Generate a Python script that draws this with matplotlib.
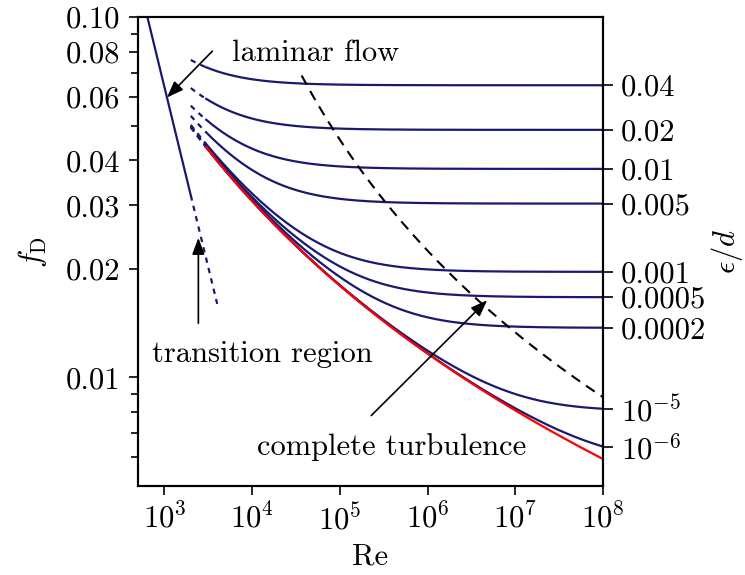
import numpy as np
import matplotlib
matplotlib.use('Agg')
import matplotlib.pyplot as plt

plt.rcParams['font.family'] = 'cmr10'
plt.rcParams['mathtext.fontset'] = 'cm'
plt.rcParams['axes.formatter.use_mathtext'] = True
plt.rcParams['font.size'] = 22

# relative roughness of each curve and its label on the right axis
eps_d = [0.04, 0.02, 0.01, 0.005, 0.001, 0.0005, 0.0002, 1e-5, 1e-6]
eps_labels = ['0.04', '0.02', '0.01', '0.005', '0.001', '0.0005', '0.0002',
              r'$10^{-5}$', r'$10^{-6}$']

re_min, re_max = 500, 1e8
re_lam_end = 2000      # end of laminar regime
re_trans_end = 4000    # laminar line dotted up to here
re_turb_start = 3000   # turbulent curves solid from here
boundary_const = 1650  # Re * eps/d along the complete-turbulence line
boundary_eps_top = 0.045

yticks = [0.01, 0.02, 0.03, 0.04, 0.06, 0.08, 0.1]
ytick_labels = ['0.01', '0.02', '0.03', '0.04', '0.06', '0.08', '0.10']
yminor = [0.006, 0.007, 0.008, 0.009, 0.05, 0.07, 0.09]
xticks = [1e3, 1e4, 1e5, 1e6, 1e7, 1e8]

navy = '#191970'
dots = (0, (2.4, 2.4))


def colebrook(re, eps):
    f = np.full_like(re, 0.02, dtype=float)
    for _ in range(80):
        f = (-2 * np.log10(eps / 3.7 + 2.51 / (re * np.sqrt(f)))) ** -2
    return f


fig = plt.figure(figsize=(7.45, 5.75), dpi=100)
ax = fig.add_axes([0.1852, 0.1548, 0.6242, 0.8156])
ax.set_xscale('log')
ax.set_yscale('log')

# laminar flow, f = 64/Re
re = np.logspace(np.log10(re_min), np.log10(re_lam_end), 100)
ax.plot(re, 64 / re, color=navy, lw=1.6)
re = np.logspace(np.log10(re_lam_end), np.log10(re_trans_end), 50)
ax.plot(re, 64 / re, color=navy, lw=1.6, ls=dots)

# Colebrook curves
re_t = np.logspace(np.log10(re_lam_end), np.log10(re_turb_start), 50)
re_s = np.logspace(np.log10(re_turb_start), np.log10(re_max), 400)
f_end = []
for e in eps_d:
    ax.plot(re_t, colebrook(re_t, e), color=navy, lw=1.6, ls=dots)
    f = colebrook(re_s, e)
    ax.plot(re_s, f, color=navy, lw=1.6)
    f_end.append(f[-1])

# smooth pipe
ax.plot(re_s, colebrook(re_s, 0.0), color='red', lw=1.6, zorder=3)

# onset of complete turbulence
eb = np.logspace(np.log10(boundary_eps_top), np.log10(boundary_const / re_max), 200)
rb = boundary_const / eb
fb = np.array([colebrook(np.array([r]), e)[0] for r, e in zip(rb, eb)])
ax.plot(rb, fb, color='black', lw=1.5, ls=(0, (5, 3.5)))

ax.set_xlim(re_min, re_max)
ax.set_ylim(0.005, 0.1)
ax.set_xticks(xticks)
ax.xaxis.set_minor_locator(matplotlib.ticker.NullLocator())
ax.set_yticks(yticks, ytick_labels)
ax.set_yticks(yminor, minor=True)
ax.yaxis.set_minor_formatter(matplotlib.ticker.NullFormatter())
ax.tick_params(which='major', length=6.5, width=1.2, pad=6)
ax.tick_params(which='minor', length=5, width=1.2)
for s in ax.spines.values():
    s.set_linewidth(1.5)

ax.set_xlabel('Re', labelpad=5)
ax.set_ylabel(r'$f_\mathrm{D}$', labelpad=12)

ax2 = ax.twinx()
ax2.set_yscale('log')
ax2.set_ylim(ax.get_ylim())
ax2.set_yticks(f_end, eps_labels)
ax2.yaxis.set_minor_locator(matplotlib.ticker.NullLocator())
ax2.tick_params(length=7, width=1.2, pad=6)
ax2.set_ylabel(r'$\epsilon/d$', labelpad=2)
for s in ax2.spines.values():
    s.set_linewidth(1.5)

arrow = dict(arrowstyle='-|>,head_length=0.4,head_width=0.15',
             color='black', lw=1.2, mutation_scale=25, shrinkA=0, shrinkB=0)
ax.annotate('', xy=(1070, 0.0598), xytext=(3520, 0.0804), arrowprops=arrow)
ax.text(52500, 0.0794, 'laminar flow', ha='center', va='center')
ax.annotate('', xy=(2440, 0.0244), xytext=(2440, 0.01414), arrowprops=arrow)
ax.text(13060, 0.01159, 'transition region', ha='center', va='center')
ax.annotate('', xy=(4.78e6, 0.01638), xytext=(2.28e5, 0.00784), arrowprops=arrow)
ax.text(3.85e5, 0.00642, 'complete turbulence', ha='center', va='center')

fig.savefig('out.png', dpi=100)
